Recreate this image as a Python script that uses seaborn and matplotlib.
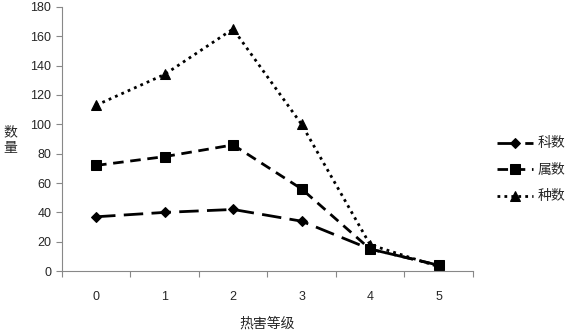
import numpy as np
import pandas as pd
import matplotlib
matplotlib.use("Agg")
import matplotlib.pyplot as plt
import seaborn as sns

# Data
grades = [0, 1, 2, 3, 4, 5]
family_counts = [37, 40, 42, 34, 15, 4]     # 科数
genus_counts = [72, 78, 86, 56, 15, 4]      # 属数
species_counts = [113, 134, 165, 100, 18, 3]  # 种数
series_names = ["科数", "属数", "种数"]

sns.set_theme(style="white")
plt.rcParams['font.family'] = ['Liberation Sans', 'Noto Sans CJK SC', 'DejaVu Sans']

df = pd.DataFrame({
    "grade": grades * 3,
    "value": family_counts + genus_counts + species_counts,
    "series": [series_names[0]] * 6 + [series_names[1]] * 6 + [series_names[2]] * 6,
})

fig = plt.figure(figsize=(5.67, 3.31), dpi=100)
ax = fig.add_axes([0.109, 0.181, 0.725, 0.798])

styles = {
    "科数": dict(marker="D", markersize=5, dashes=(7, 3)),
    "属数": dict(marker="s", markersize=7, dashes=(3.8, 2.4)),
    "种数": dict(marker="^", markersize=7, dashes=(1, 1.5)),
}

for name in series_names:
    sub = df[df["series"] == name]
    st = styles[name]
    sns.lineplot(data=sub, x="grade", y="value", ax=ax, color="black",
                 linewidth=2, marker=st["marker"], markersize=st["markersize"],
                 markeredgecolor="black", label=name)
    ax.lines[-1].set_dashes(st["dashes"])

ax.set_xlim(-0.5, 5.5)
ax.set_ylim(0, 180)
ax.set_yticks(np.arange(0, 181, 20))
ax.set_xticks(grades)
ax.set_xticks(np.arange(-0.5, 5.6, 1), minor=True)
ax.tick_params(axis="x", which="major", length=0, pad=14, labelsize=9)
ax.tick_params(axis="x", which="minor", length=4, width=0.8, color="#888888", bottom=True)
ax.tick_params(axis="y", length=4, width=0.8, color="#888888", left=True, labelsize=9)

for s in ["top", "right"]:
    ax.spines[s].set_visible(False)
for s in ["left", "bottom"]:
    ax.spines[s].set_color("#888888")
    ax.spines[s].set_linewidth(0.8)

ax.set_xlabel("热害等级", fontsize=10, labelpad=10)
ax.set_ylabel("")
fig.text(0.018, 0.577, "数\n量", fontsize=10, ha="center", va="center", linespacing=1.2)

leg = ax.legend(loc="center left", bbox_to_anchor=(1.058, 0.383), frameon=False,
                fontsize=10, handlelength=2.6, labelspacing=0.9, handletextpad=0.35,
                borderpad=0, borderaxespad=0)

fig.savefig("out.png", dpi=100)
